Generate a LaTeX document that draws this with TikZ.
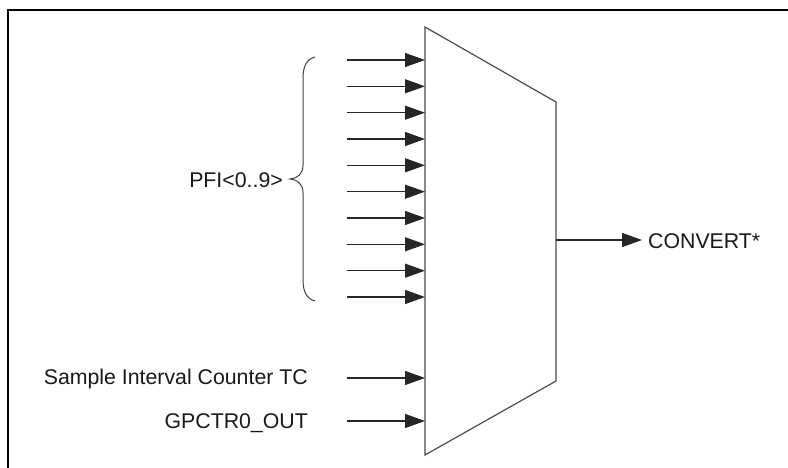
\documentclass[tikz,border=0pt]{standalone}
\usepackage{fontspec}
\setmainfont{Liberation Sans}
\usetikzlibrary{arrows.meta}
\begin{document}
\begin{tikzpicture}[x=1pt,y=-1pt,
  lbl/.style={font=\fontsize{21.3}{25}\selectfont,text=black!90,inner sep=0pt},
  sig/.style={line width=1.1pt,draw=black!85,-{Triangle[length=20pt,width=14pt]}},
  mux/.style={line width=1.2pt,draw=black!70,line join=miter},
  frame/.style={line width=2.4pt,draw=black},
  brace/.style={line width=1pt,draw=black!75}]
\useasboundingbox (0,0) rectangle (788,468);
% frame (only top and left edges visible)
\coordinate (fbl) at (8,470);
\coordinate (ftr) at (790,10);
\draw[frame] (fbl) |- (ftr);
% multiplexer
\coordinate (mtl) at (425,27);
\coordinate (mtr) at (556,102);
\coordinate (mbr) at (556,381);
\coordinate (mbl) at (425,455);
\draw[mux] (mtl) -- (mtr) -- (mbr) -- (mbl) -- cycle;
% PFI inputs
\foreach \i/\y in {0/60,1/86.3,2/112.7,3/139,4/165.3,5/191.7,6/218,7/244.3,8/270.7,9/297}{
  \coordinate (s\i) at (347,\y);
  \coordinate (e\i) at (425,\y);
  \draw[sig] (s\i) -- (e\i);
}
% brace
\draw[brace] (315,57) .. controls (307,59) and (303,66) .. (303,78)
  -- (303,165) .. controls (303,174) and (298,178) .. (290,179)
  .. controls (298,180) and (303,184) .. (303,193)
  -- (303,280) .. controls (303,292) and (307,299) .. (315,301);
\node[lbl,anchor=east] (pfi) at (283,180) {PFI<0..9>};
% other inputs
\coordinate (sic) at (347,378);
\coordinate (sie) at (425,378);
\draw[sig] (sic) -- (sie);
\node[lbl,anchor=east] (sictc) at (308,379) {Sample Interval Counter TC};
\coordinate (gps) at (347,421);
\coordinate (gpe) at (425,421);
\draw[sig] (gps) -- (gpe);
\node[lbl,anchor=east] (gp) at (308,423) {GPCTR0\_OUT};
% output
\coordinate (os) at (556,240);
\coordinate (oe) at (642,240);
\node[lbl,anchor=west] (conv) at (648,241) {CONVERT*};
\draw[sig] (os) -- (oe);
\end{tikzpicture}
\end{document}
